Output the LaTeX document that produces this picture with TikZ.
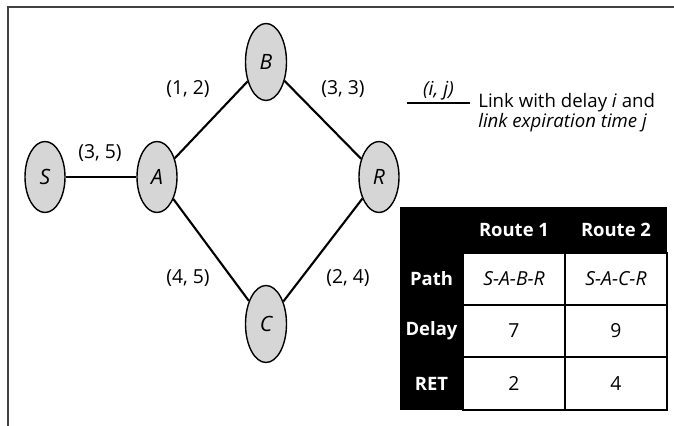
\documentclass[tikz,border=0pt]{standalone}
\usepackage{fontspec}
\setmainfont{Open Sans}
\usetikzlibrary{shapes.geometric}

\begin{document}
\begin{tikzpicture}[font=\fontsize{11}{13}\selectfont]
\tikzset{
% hosts of the network and the labels on their links
station/.style={ellipse,draw,line width=0.8pt,fill=black!16,inner sep=0pt,minimum width=0.8cm,minimum height=1.42cm,font=\fontsize{12}{14}\selectfont\itshape},
tall station/.style={station,minimum width=0.82cm,minimum height=1.54cm},
link/.style={line width=1.2pt},
link label/.style={inner sep=1pt},
% cells of the route table
head cell/.style={text=white,font=\fontsize{10.5}{12}\selectfont\bfseries},
body cell/.style={fill=white,draw=black,line width=0.7pt}
}

\useasboundingbox (0,0) rectangle (13.48,8.52);
% frame
\draw[line width=0.6pt,black!75] (0.16,0) |- (13.48,8.38);

% The network
\node(S)[station] at (0.90,4.98) {S};
\node(A)[station] at (3.14,4.98) {A};
\node(B)[tall station] at (5.32,7.28) {B};
\node(C)[tall station] at (5.32,2.04) {C};
\node(R)[station] at (7.58,4.98) {R};

\draw[link] (S) -- (A);
\draw[link] (A) -- (B);
\draw[link] (B) -- (R);
\draw[link] (A) -- (C);
\draw[link] (C) -- (R);

% delay and expiration time of each link
\node(sa)[link label] at (2.00,5.46) {(3, 5)};
\node(ab)[link label] at (3.76,6.74) {(1, 2)};
\node(br)[link label] at (6.86,6.74) {(3, 3)};
\node(ac)[link label] at (3.76,2.96) {(4, 5)};
\node(cr)[link label] at (6.96,2.96) {(2, 4)};

% legend
\coordinate(lgl) at (8.14,6.46);
\coordinate(lgr) at (9.40,6.46);
\draw[line width=0.9pt] (lgl) -- node(lgij)[above,link label]{\textit{(i, j)}} (lgr);
\node(lgtext)[anchor=west,align=left,inner sep=0pt,font=\fontsize{10.6}{9.5}\selectfont] at (9.56,6.27)
{Link with delay \textit{i} and\\ \textit{link expiration time j}};

% route table
\fill (8.00,0.32) rectangle (13.34,4.38);
\draw[body cell] (9.26,2.42) rectangle (11.30,3.46);
\draw[body cell] (11.30,2.42) rectangle (13.34,3.46);
\draw[body cell] (9.26,1.38) rectangle (11.30,2.42);
\draw[body cell] (11.30,1.38) rectangle (13.34,2.42);
\draw[body cell] (9.26,0.32) rectangle (11.30,1.38);
\draw[body cell] (11.30,0.32) rectangle (13.34,1.38);

\node(route1)[head cell] at (10.28,3.92) {Route 1};
\node(route2)[head cell] at (12.32,3.92) {Route 2};
\node(path)[head cell] at (8.63,2.94) {Path};
\node(delay)[head cell] at (8.63,1.90) {Delay};
\node(ret)[head cell] at (8.63,0.85) {RET};

\node(path1) at (10.28,2.94) {\textit{S-A-B-R}};
\node(path2) at (12.32,2.94) {\textit{S-A-C-R}};
\node(delay1) at (10.28,1.90) {7};
\node(delay2) at (12.32,1.90) {9};
\node(ret1) at (10.28,0.85) {2};
\node(ret2) at (12.32,0.85) {4};
\end{tikzpicture}
\end{document}
